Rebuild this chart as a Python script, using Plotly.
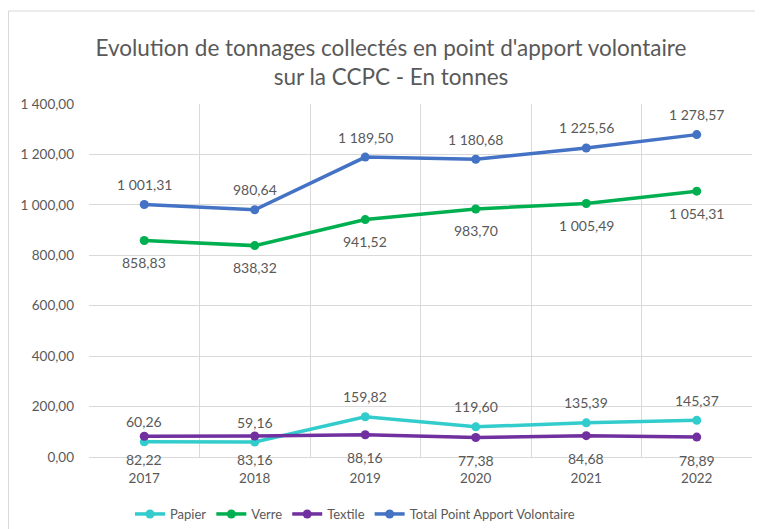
import plotly.graph_objects as go

years = ["2017", "2018", "2019", "2020", "2021", "2022"]
papier = [60.26, 59.16, 159.82, 119.60, 135.39, 145.37]
verre = [858.83, 838.32, 941.52, 983.70, 1005.49, 1054.31]
textile = [82.22, 83.16, 88.16, 77.38, 84.68, 78.89]
total = [1001.31, 980.64, 1189.50, 1180.68, 1225.56, 1278.57]

FONT = "Lato, Calibri, Carlito, sans-serif"
GREY = "#595959"
W, H = 763, 529
OFF = 8  # page body margin offset


def fr(v):
    return format(v, ",.2f").replace(",", " ").replace(".", ",")


series = [
    ("Papier", papier, "#33CCCC", -20),
    ("Verre", verre, "#00B050", 22),
    ("Textile", textile, "#7030A0", 23),
    ("Total Point Apport Volontaire", total, "#4472C4", -20),
]

fig = go.Figure()
for name, vals, color, shift in series:
    fig.add_trace(go.Scatter(
        x=years, y=vals, name=name, mode="lines+markers",
        line=dict(color=color, width=3.5),
        marker=dict(color=color, size=9),
        cliponaxis=False,
    ))
    for i, yv in enumerate(vals):
        fig.add_annotation(x=i, y=yv, xref="x", yref="y", text=fr(yv),
                           showarrow=False, yshift=-shift,
                           yanchor="middle", xanchor="center",
                           font=dict(family=FONT, size=14, color=GREY))

pl, pr, pt, pb = 89 - OFF, 752 - OFF, 104 - OFF, 457 - OFF

fig.update_layout(
    width=W, height=H,
    margin=dict(l=pl, r=W - pr, t=pt, b=H - pb, autoexpand=False),
    paper_bgcolor="white", plot_bgcolor="white",
    separators=", ",
    font=dict(family=FONT, size=13, color=GREY),
    title=dict(
        text="Evolution de tonnages collectés en point d'apport volontaire<br>sur la CCPC - En tonnes",
        x=(391 - OFF) / W, xref="container", xanchor="center",
        y=1 - (56 - OFF) / H, yref="container", yanchor="middle",
        font=dict(family=FONT, size=22.5, color=GREY),
    ),
    xaxis=dict(
        type="category", tickson="boundaries", showgrid=True,
        gridcolor="#D9D9D9", gridwidth=1,
        showline=True, linecolor="#D9D9D9", linewidth=1,
        ticks="", ticklabelstandoff=9,
        tickfont=dict(family=FONT, size=13.5, color=GREY),
        zeroline=False, range=[-0.5, 5.5],
    ),
    yaxis=dict(
        range=[0, 1400], dtick=200, tickformat=",.2f",
        showgrid=True, gridcolor="#D9D9D9", gridwidth=1,
        zeroline=False, showline=False, ticks="", ticklabelstandoff=14,
        tickfont=dict(family=FONT, size=13.5, color=GREY),
    ),
    legend=dict(
        orientation="h", xref="container", x=(355 - OFF) / W, xanchor="center",
        yref="container", y=1 - (514 - OFF) / H, yanchor="middle",
        font=dict(family=FONT, size=13, color=GREY),
        itemwidth=30, tracegroupgap=0,
    ),
    showlegend=True,
)

fig.add_shape(type="rect", xref="paper", yref="paper",
              x0=(0.5 - pl) / (pr - pl), x1=1.2, y0=-0.4,
              y1=(pb - (11 - OFF)) / (pb - pt),
              line=dict(color="#D9D9D9", width=1), layer="below")

fig.write_html("out.html")
